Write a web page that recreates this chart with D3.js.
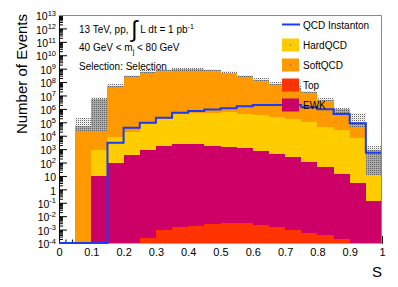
<!DOCTYPE html>
<html>
<head>
<meta charset="utf-8">
<script src="https://cdn.jsdelivr.net/npm/d3@7"></script>
<style>
body { margin: 0; background: #fff; }
svg { font-family: "Liberation Sans", Arial, Helvetica, sans-serif; }
</style>
</head>
<body>
<svg id="chart" width="398" height="287"></svg>
<script>
// bin edges of S (20 bins)
var binEdges = [0, 0.05, 0.1, 0.15, 0.2, 0.25, 0.3, 0.35, 0.4, 0.45, 0.5,
                0.55, 0.6, 0.65, 0.7, 0.75, 0.8, 0.85, 0.9, 0.95, 1.0];

// stacked backgrounds, events per bin
var topQuark = [0, 0, 0, 0, 0, 2.2e-4, 1.0e-3, 1.5e-3, 1.7e-3, 2.6e-3, 3.1e-3,
                3.1e-3, 2.2e-3, 1.5e-3, 1.0e-3, 5.9e-4, 4.0e-4, 2.0e-4, 0, 0];
var ewk      = [0, 0, 10, 93, 363, 933, 1700, 2240, 2240, 1860, 1450,
                1150, 725, 437, 275, 115, 47, 13, 3.2, 0.14];
var hardQCD  = [0, 0, 840, 8400, 19600, 73000, 164000, 415000, 466000, 523000, 588000,
                416000, 354000, 263000, 166000, 112000, 46800, 26900, 6460, 11.6];
var softQCD  = [0, 56200, 5.25e6, 5.13e7, 2.82e8, 5.89e8, 7.94e8, 9.55e8, 9.55e8, 7.94e8, 5.01e8,
                2.82e8, 1.45e8, 7.24e7, 3.63e7, 1.74e7, 4.57e6, 9.5e5, 74800, 860];

// signal
var instanton = [0, 0, 0, 3020, 39800, 93300, 219000, 525000, 708000, 891000, 1.12e6,
                 1.58e6, 1.95e6, 1.95e6, 1.95e6, 1.32e6, 933000, 417000, 85100, 537];

// uncertainty band on the total
var bandHigh = [0, 2.0e5, 8.1e6, 6.8e7, 3.6e8, 7.6e8, 1.0e9, 1.2e9, 1.2e9, 1.0e9, 6.5e8,
                3.6e8, 1.9e8, 9.4e7, 4.7e7, 2.3e7, 6.2e6, 1.23e6, 4.7e5, 1.7e3];
var bandLow  = [0, 2.34e4, 2.24e4, 4.5e7, 2.2e8, 4.5e8, 6.0e8, 7.2e8, 7.2e8, 6.0e8, 3.8e8,
                2.2e8, 1.1e8, 5.5e7, 2.7e7, 1.3e7, 3.4e6, 4.7e5, 4.5e4, 12];

var xTickVals = [0, 0.1, 0.2, 0.3, 0.4, 0.5, 0.6, 0.7, 0.8, 0.9, 1];
var yDecades = [1e-4, 1e-3, 1e-2, 1e-1, 1, 10, 1e2, 1e3, 1e4, 1e5, 1e6, 1e7, 1e8, 1e9, 1e10, 1e11, 1e12, 1e13];

var legendNames = ["QCD Instanton", "HardQCD", "SoftQCD", "Top", "EWK"];

var colors = { top: "#ff3300", ewk: "#cc0066", hard: "#ffcc00", soft: "#ff9900", inst: "#1a3cf5" };

var L = 59, R = 382, T = 15, B = 243;

var svg = d3.select("#chart");

var defs = svg.append("defs");
var pat = defs.append("pattern").attr("id", "dots")
    .attr("width", 2).attr("height", 2).attr("patternUnits", "userSpaceOnUse");
pat.append("rect").attr("x", 0).attr("y", 0).attr("width", 1).attr("height", 1).attr("fill", "#666");
pat.append("rect").attr("x", 1).attr("y", 1).attr("width", 1).attr("height", 1).attr("fill", "#bbb").attr("fill-opacity", 0.5);

var x = d3.scaleLinear().domain([0, 1]).range([L, R]);
var y = d3.scaleLog().domain([1e-4, 1e13]).range([B, T]);

// zero (or below range) goes to the bottom of the frame
function yv(v, bottom) {
    if (!(v > 1e-4)) return bottom;
    return y(v);
}

//axes first, the histograms cover the ticks
var xMinor = d3.range(0, 1.0001, 0.02);
svg.append("g").attr("transform", "translate(0," + B + ")")
    .call(d3.axisBottom(x).tickValues(xMinor).tickSize(-3.5).tickSizeOuter(0).tickFormat(""));
var xAxis = svg.append("g").attr("transform", "translate(0," + B + ")")
    .call(d3.axisBottom(x).tickValues(xTickVals).tickSize(-7).tickSizeOuter(0).tickPadding(5)
        .tickFormat(function (d) { return d3.format("~g")(d); }));
xAxis.selectAll("text").attr("font-size", 11).attr("fill", "#000").attr("font-family", null);

var yMinor = [];
yDecades.forEach(function (d) {
    for (var k = 2; k < 10; k++) if (d * k < 1e13) yMinor.push(d * k);
});
svg.append("g").attr("transform", "translate(" + L + ",0)")
    .call(d3.axisLeft(y).tickValues(yMinor).tickSize(-4).tickSizeOuter(0).tickFormat(""));
var yAxis = svg.append("g").attr("transform", "translate(" + L + ",0)")
    .call(d3.axisLeft(y).tickValues(yDecades).tickSize(-8).tickSizeOuter(0).tickPadding(3).tickFormat(""));

yAxis.selectAll(".tick").each(function (d) {
    var e = Math.round(Math.log10(d));
    var t = d3.select(this).append("text")
        .attr("x", -3).attr("dy", "0.45em").attr("text-anchor", "end")
        .attr("fill", "#000").attr("font-size", 10.5);
    if (e === 0) { t.text("1"); return; }
    t.append("tspan").text("10");
    if (e !== 1) t.append("tspan").attr("dy", -4.5).attr("font-size", 7.5).text(e);
});
svg.selectAll(".domain").attr("stroke", "#000");

// stacked histograms
var rows = binEdges.slice(0, -1).map(function (lo, i) {
    return { lo: lo, hi: binEdges[i + 1], top: topQuark[i], ewk: ewk[i], hard: hardQCD[i], soft: softQCD[i] };
});
var stack = d3.stack().keys(["top", "ewk", "hard", "soft"])(rows);

var gHist = svg.append("g").attr("shape-rendering", "crispEdges");
stack.forEach(function (layer) {
    gHist.selectAll("rect." + layer.key)
        .data(layer.filter(function (d) { return d[1] > d[0] && d[1] > 1e-4; }))
        .enter().append("rect")
        .attr("class", layer.key)
        .attr("x", function (d) { return x(d.data.lo); })
        .attr("width", function (d) { return x(d.data.hi) - x(d.data.lo); })
        .attr("y", function (d) { return yv(d[1], B + 1); })
        .attr("height", function (d) { return yv(d[0], B + 1) - yv(d[1], B + 1); })
        .attr("fill", colors[layer.key]);
});

// line along the empty bottom / right edge
var lastEwk = stack[1][stack[1].length - 1][1];
svg.append("path")
    .attr("d", "M" + x(0.1) + "," + (B + 0.5) + "H" + (R - 0.5) + "V" + yv(lastEwk, B))
    .attr("fill", "none").attr("stroke", "#f3907f").attr("stroke-width", 1);

// uncertainty band
gHist.selectAll("rect.band")
    .data(rows.filter(function (d, i) { return bandHigh[i] > 0; }))
    .enter().append("rect")
    .attr("class", "band")
    .attr("x", function (d) { return x(d.lo); })
    .attr("width", function (d) { return x(d.hi) - x(d.lo); })
    .attr("y", function (d) { return yv(bandHigh[rows.indexOf(d)], B); })
    .attr("height", function (d) {
        var i = rows.indexOf(d);
        return yv(bandLow[i], B) - yv(bandHigh[i], B);
    })
    .attr("fill", "url(#dots)");

// QCD instanton outline
var linePts = [];
instanton.forEach(function (v, i) {
    linePts.push([x(binEdges[i]), yv(v, B)]);
    linePts.push([x(binEdges[i + 1]), yv(v, B)]);
});
svg.append("path")
    .attr("d", d3.line()(linePts))
    .attr("fill", "none").attr("stroke", colors.inst).attr("stroke-width", 2);

// frame top / right
svg.append("path")
    .attr("d", "M" + L + "," + (T + 0.5) + "H" + (R - 0.5) + "V" + B)
    .attr("fill", "none").attr("stroke", "#888").attr("stroke-width", 1);

// legend
var leg = svg.append("g").attr("font-size", 10);
var legColors = [colors.inst, colors.hard, colors.soft, colors.top, colors.ewk];
legendNames.forEach(function (name, i) {
    var cy = 25 + i * 20;
    if (i === 0) {
        leg.append("line").attr("x1", 282).attr("x2", 300).attr("y1", cy - 0.5).attr("y2", cy - 0.5)
            .attr("stroke", legColors[i]).attr("stroke-width", 2);
    } else {
        leg.append("rect").attr("x", 282).attr("y", cy - 6.5).attr("width", 17).attr("height", 13)
            .attr("fill", legColors[i]);
        leg.append("rect").attr("x", 290).attr("y", cy - 0.5).attr("width", 1).attr("height", 1)
            .attr("fill", "#555");
    }
    leg.append("text").attr("x", 303).attr("y", cy + 3.6).text(name);
});

// labels
var info = svg.append("g").attr("font-size", 10);
var t1 = info.append("text").attr("x", 79).attr("y", 33);
t1.append("tspan").text("13 TeV, pp, ");
t1.append("tspan").attr("font-size", 23).attr("dy", 3.5).text("\u222B");
t1.append("tspan").attr("dy", -3.5).text(" L dt = 1 pb");
t1.append("tspan").attr("dy", -4.5).attr("font-size", 7).text("-1");

var t2 = info.append("text").attr("x", 79).attr("y", 51);
t2.append("tspan").text("40 GeV < m");
t2.append("tspan").attr("dy", 2.5).attr("font-size", 7).text("j");
t2.append("tspan").attr("dy", -2.5).text(" < 80 GeV");

info.append("text").attr("x", 79).attr("y", 70).text("Selection: Selection");

svg.append("text").attr("x", R).attr("y", 277).attr("text-anchor", "end")
    .attr("font-size", 15).text("S");
svg.append("text").attr("transform", "translate(27," + (T - 1) + ") rotate(-90)")
    .attr("text-anchor", "end").attr("font-size", 15).text("Number of Events");
</script>
</body>
</html>
